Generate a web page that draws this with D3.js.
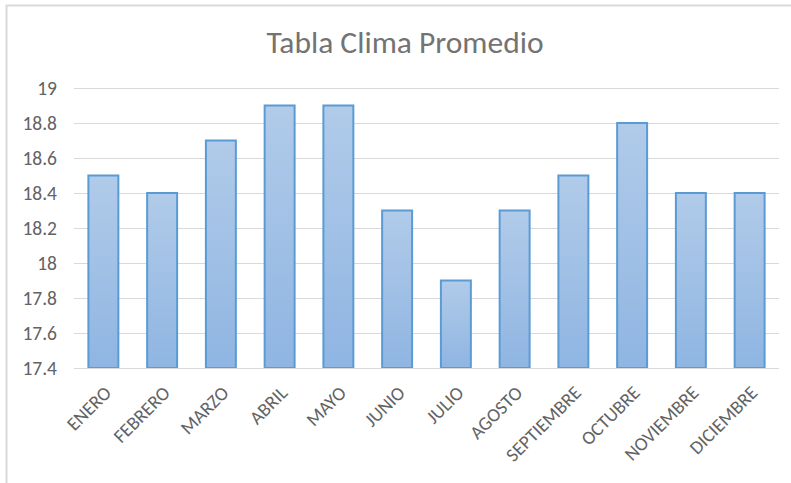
<!DOCTYPE html>
<html lang="es">
<head>
<meta charset="UTF-8" />
<title>Tabla Clima Promedio</title>
<script src="https://d3js.org/d3.v7.min.js"></script>
<style>
  body { margin: 0; background: #fff; }
  text { font-family: Carlito, Calibri, "Open Sans", sans-serif; fill: #636363; }
</style>
</head>
<body>
<svg id="chart" width="791" height="483"></svg>
<script>
var months = ["ENERO", "FEBRERO", "MARZO", "ABRIL", "MAYO", "JUNIO", "JULIO",
              "AGOSTO", "SEPTIEMBRE", "OCTUBRE", "NOVIEMBRE", "DICIEMBRE"];
var temps = [18.5, 18.4, 18.7, 18.9, 18.9, 18.3, 17.9, 18.3, 18.5, 18.8, 18.4, 18.4];
var yTicks = [17.4, 17.6, 17.8, 18, 18.2, 18.4, 18.6, 18.8, 19];

var svg = d3.select("#chart");

// chart frame (right / bottom edges run off the picture)
svg.append("rect")
  .attr("x", 6.5).attr("y", 5.5)
  .attr("width", 820).attr("height", 520)
  .attr("fill", "#fff")
  .attr("stroke", "#d9d9d9")
  .attr("stroke-width", 2);

var x = d3.scaleBand()
  .domain(months)
  .range([74, 779])
  .paddingInner(0.49)
  .paddingOuter(0.245);

var y = d3.scaleLinear()
  .domain([17.4, 19])
  .range([368, 88]);

var defs = svg.append("defs");
var grad = defs.append("linearGradient")
  .attr("id", "barFill")
  .attr("x1", 0).attr("y1", 0).attr("x2", 0).attr("y2", 1);
grad.append("stop").attr("offset", "0%").attr("stop-color", "#b1cbe9");
grad.append("stop").attr("offset", "100%").attr("stop-color", "#8fb5e2");

// gridlines
svg.append("g")
  .selectAll("line")
  .data(yTicks)
  .enter()
  .append("line")
    .attr("x1", 74).attr("x2", 779)
    .attr("y1", function(d){ return Math.round(y(d)) + 0.5 })
    .attr("y2", function(d){ return Math.round(y(d)) + 0.5 })
    .attr("stroke", "#d9d9d9")
    .attr("stroke-width", 1);

// y labels
var yAxis = d3.axisLeft(y).tickValues(yTicks).tickSize(0).tickPadding(0)
  .tickFormat(function(d){ return d3.format("")(+d.toFixed(1)) });
var gy = svg.append("g").attr("transform", "translate(57,0)").call(yAxis);
gy.select(".domain").remove();
gy.selectAll("text")
  .attr("font-size", 19.5)
  .attr("font-family", null)
  .attr("fill", "#636363");

// bars
svg.append("g")
  .selectAll("rect")
  .data(temps)
  .enter()
  .append("rect")
    .attr("x", function(d, i){ return x(months[i]) })
    .attr("y", function(d){ return y(d) })
    .attr("width", x.bandwidth())
    .attr("height", function(d){ return y(17.4) - y(d) })
    .attr("fill", "url(#barFill)")
    .attr("stroke", "#5b9bd5")
    .attr("stroke-width", 2);

// baseline
svg.append("line")
  .attr("x1", 74).attr("x2", 779)
  .attr("y1", 368.5).attr("y2", 368.5)
  .attr("stroke", "#d9d9d9");

// x labels, rotated
svg.append("g")
  .selectAll("text")
  .data(months)
  .enter()
  .append("text")
    .attr("transform", function(d){
      return "translate(" + (x(d) + x.bandwidth() / 2 + 9) + ",394) rotate(-45)" })
    .attr("text-anchor", "end")
    .attr("font-size", 19)
    .text(function(d){ return d });

// title
svg.append("text")
  .attr("x", 405).attr("y", 53)
  .attr("text-anchor", "middle")
  .attr("font-size", 31.5)
  .style("font-weight", 300)
  .style("fill", "#737373")
  .text("Tabla Clima Promedio");
</script>
</body>
</html>
